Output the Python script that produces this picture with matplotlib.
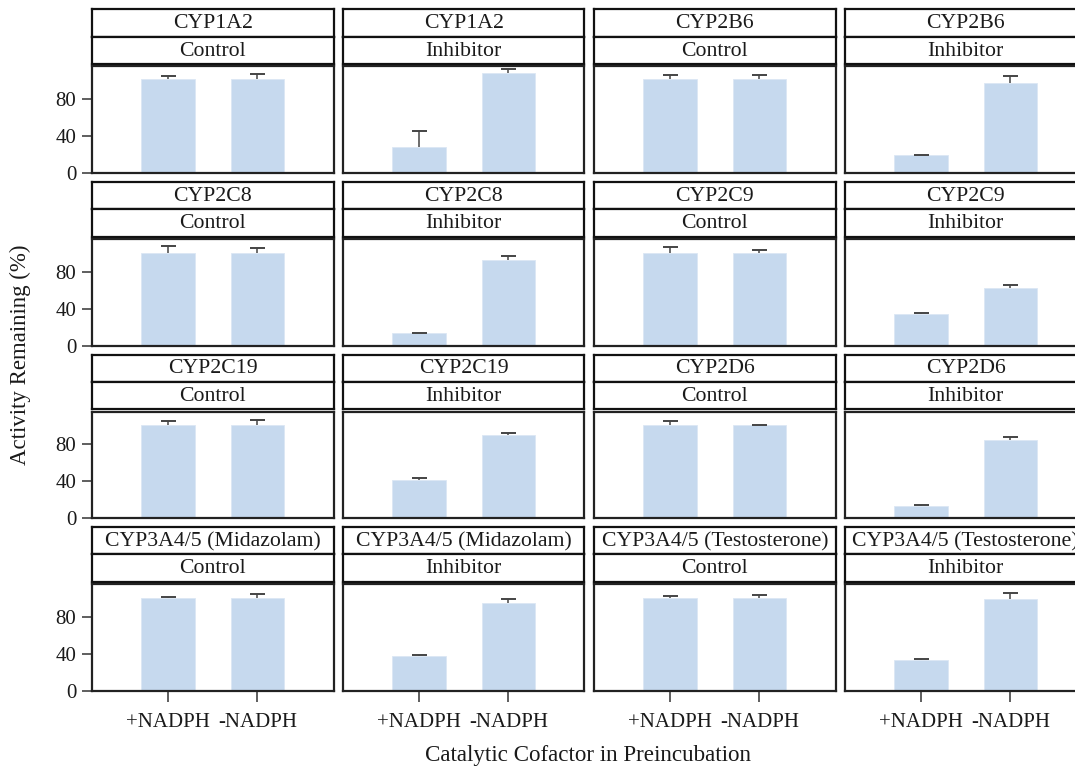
import matplotlib
matplotlib.use("Agg")
import matplotlib.pyplot as plt
import numpy as np

plt.rcParams['font.family'] = ['Liberation Serif', 'DejaVu Serif']

# Facet labels (row-major, 4 x 4)
enzymes = [
    "CYP1A2", "CYP1A2", "CYP2B6", "CYP2B6",
    "CYP2C8", "CYP2C8", "CYP2C9", "CYP2C9",
    "CYP2C19", "CYP2C19", "CYP2D6", "CYP2D6",
    "CYP3A4/5 (Midazolam)", "CYP3A4/5 (Midazolam)",
    "CYP3A4/5 (Testosterone)", "CYP3A4/5 (Testosterone)",
]
conditions = ["Control", "Inhibitor"] * 8
cofactors = ["+NADPH", "-NADPH"]

# Mean activity remaining (%) for +NADPH / -NADPH in each facet
activity_plus = [100.9, 28.2, 100.9, 19.5,
                 100.0, 13.5, 100.0, 34.0,
                 100.3, 41.8, 100.3, 13.8,
                 100.2, 38.0, 100.5, 33.0]
activity_minus = [100.9, 107.8, 100.9, 97.6,
                  100.0, 92.5, 100.0, 62.0,
                  100.3, 89.9, 100.3, 84.2,
                  100.5, 95.0, 100.5, 99.5]
# Upper error (SD)
err_plus = [3.6, 17.0, 4.7, 0.4,
            7.9, 0.8, 6.8, 1.4,
            5.0, 2.2, 4.7, 0.4,
            1.4, 0.5, 2.0, 1.5]
err_minus = [5.4, 4.3, 4.7, 6.9,
             5.1, 4.3, 3.6, 3.2,
             6.1, 2.2, 0.7, 3.9,
             3.5, 4.0, 3.0, 5.5]

y_ticks = [0, 40, 80]

W, H = 1075, 767
fig = plt.figure(figsize=(W / 100, H / 100), dpi=100)


def box(left, top, width, height):
    return [left / W, 1 - (top + height) / H, width / W, height / H]


col_left = [92, 343, 594, 845]
col_w = 241.5
row_top0 = 9.3
row_step = 172.6
strip_h = 27.3
panel_gap = 2.5
panel_h = 106.8

bar_color = "#c6d9ee"
err_color = "#444444"
txt_color = "#1a1a1a"
cap_half = 0.085

for i in range(16):
    r, c = divmod(i, 4)
    top = row_top0 + r * row_step
    left = col_left[c]

    # strip headers
    for k, label in enumerate([enzymes[i], conditions[i]]):
        sax = fig.add_axes(box(left, top + k * strip_h, col_w, strip_h))
        sax.set_xticks([])
        sax.set_yticks([])
        sax.set_facecolor("white")
        for sp in sax.spines.values():
            sp.set_linewidth(1.6)
            sp.set_color("#111111")
        sax.text(0.5, 0.47, label, ha="center", va="center",
                 fontsize=15.7, color=txt_color, transform=sax.transAxes,
                 clip_on=False)

    ax = fig.add_axes(box(left, top + 2 * strip_h + panel_gap, col_w, panel_h))
    x = np.arange(1, 3)
    vals = np.array([activity_plus[i], activity_minus[i]])
    errs = np.array([err_plus[i], err_minus[i]])
    ax.bar(x, vals, width=0.6, color=bar_color, edgecolor="#dbe7f4",
           linewidth=0.6, zorder=2)
    # upper-only error bars
    ax.vlines(x, vals, vals + errs, colors=err_color, linewidth=1.1, zorder=3)
    ax.hlines(vals + errs, x - cap_half, x + cap_half, colors=err_color,
              linewidth=1.4, zorder=3)
    ax.set_xlim(0.146, 2.854)
    ax.set_ylim(0, 115)
    for sp in ax.spines.values():
        sp.set_linewidth(1.6)
        sp.set_color("#222222")

    ax.set_yticks(y_ticks)
    ax.set_xticks(x)
    ax.tick_params(axis="y", length=7.2, width=1.1, color="#333333",
                   labelsize=15, labelcolor=txt_color, pad=4)
    ax.tick_params(axis="x", length=8, width=1.1, color="#333333",
                   labelsize=15, labelcolor=txt_color, pad=8)
    if c == 0:
        ax.set_yticklabels([str(t) for t in y_ticks])
    else:
        ax.tick_params(axis="y", left=False, labelleft=False)
    if r == 3:
        ax.set_xticklabels(cofactors)
    else:
        ax.tick_params(axis="x", bottom=False, labelbottom=False)

fig.text(20 / W, 1 - 355 / H, "Activity Remaining (%)", rotation=90,
         ha="center", va="center", fontsize=16.5, color=txt_color)
fig.text(588 / W, 1 - 755 / H, "Catalytic Cofactor in Preincubation",
         ha="center", va="center", fontsize=16.6, color=txt_color)

fig.savefig("out.png", dpi=100, facecolor="white")
